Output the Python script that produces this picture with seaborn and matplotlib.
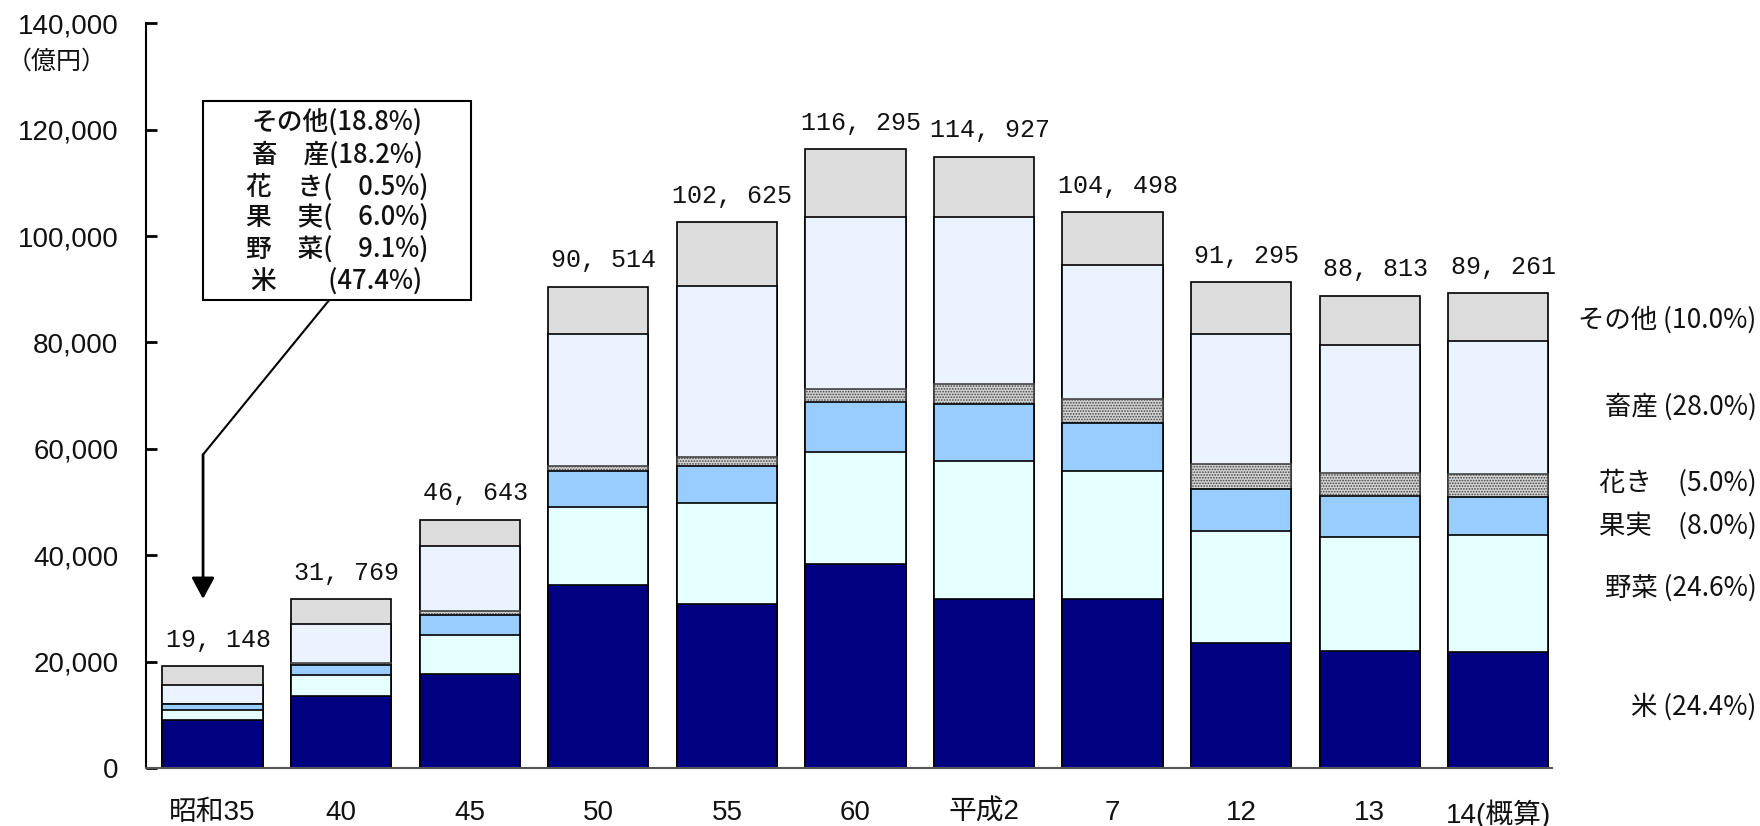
import matplotlib
matplotlib.use("Agg")
import matplotlib.pyplot as plt
import seaborn as sns
import numpy as np
import pandas as pd
from matplotlib.patches import Rectangle
from matplotlib.ticker import FuncFormatter, MultipleLocator

# 農業総産出額の推移（億円）
years = ["昭和35", "40", "45", "50", "55", "60", "平成2", "7", "12", "13", "14(概算)"]
totals = [19148, 31769, 46643, 90514, 102625, 116295, 114927, 104498, 91295, 88813, 89261]

rice = [9076, 13470, 17740, 34480, 30850, 38430, 31790, 31850, 23510, 22060, 21780]
vegetables = [1742, 3950, 7330, 14670, 19000, 21010, 26010, 23980, 21000, 21390, 21958]
fruit = [1149, 2000, 3770, 6640, 6880, 9330, 10690, 9060, 7970, 7640, 7141]
flowers = [96, 250, 700, 900, 1770, 2390, 3740, 4570, 4700, 4400, 4463]
livestock = [3485, 7400, 12270, 24950, 32090, 32410, 31340, 25150, 24320, 24080, 24993]
other = [3600, 4699, 4833, 8874, 12035, 12725, 11357, 9888, 9795, 9243, 8926]

# 構成比（昭和35年 / 平成14年）
shares_first = ["その他(18.8%)", "畜　産(18.2%)", "花　き(　0.5%)",
                "果　実(　6.0%)", "野　菜(　9.1%)", "米　　(47.4%)"]
shares_last = ["その他 (10.0%)", "畜産 (28.0%)", "花き　(5.0%)",
               "果実　(8.0%)", "野菜 (24.6%)", "米 (24.4%)"]

sns.set_theme(style="white")
plt.rcParams["font.family"] = ["Liberation Sans", "Noto Sans CJK JP", "DejaVu Sans"]
plt.rcParams["hatch.linewidth"] = 0.8

fig = plt.figure(figsize=(17.6, 8.26), dpi=100)
ax = fig.add_axes([0.083, 0.0702, 0.799, 0.9016])

layers = [
    (rice, "#000080", None),
    (vegetables, "#E6FFFF", None),
    (fruit, "#99CCFF", None),
    (flowers, "#D2D2D2", "......"),
    (livestock, "#EAF3FF", None),
    (other, "#DCDCDC", None),
]
cum = np.cumsum([np.array(v) for v, _, _ in layers], axis=0)

# stacked bars: draw cumulative heights from the top layer downwards
for k in reversed(range(len(layers))):
    _, color, hatch = layers[k]
    df = pd.DataFrame({"year": years, "value": cum[k]})
    n0 = len(ax.patches)
    sns.barplot(data=df, x="year", y="value", order=years, color=color,
                saturation=1, width=0.78, edgecolor="black", linewidth=1.2,
                errorbar=None, ax=ax)
    if hatch:
        for p in ax.patches[n0:]:
            p.set_hatch(hatch)
            p.set_edgecolor("#444444")

# totals above bars
for i, t in enumerate(totals):
    ax.annotate(f"{t:,}".replace(",", ", "), xy=(i, t), xytext=(4, 14),
                textcoords="offset points", ha="center", va="baseline",
                fontsize=18, family=["Liberation Mono", "DejaVu Sans Mono"],
                color="#111111")

ax.set_xlim(-0.517, 10.42)
ax.set_ylim(0, 140000)
ax.yaxis.set_major_locator(MultipleLocator(20000))
ax.yaxis.set_major_formatter(FuncFormatter(lambda v, _: f"{int(v):,}"))
ax.set_xlabel("")
ax.set_ylabel("")

for s in ("top", "right"):
    ax.spines[s].set_visible(False)
ax.spines["left"].set_color("black")
ax.spines["left"].set_linewidth(1.5)
ax.spines["bottom"].set_color("#555555")
ax.spines["bottom"].set_linewidth(1.5)

ax.tick_params(axis="y", direction="in", length=8, width=2, color="black",
               pad=20, labelsize=20, labelcolor="#111111", left=True)
ax.tick_params(axis="x", length=0, pad=23, labelsize=20, labelcolor="#111111")

fig.text(0.032, 0.925, "（億円）", ha="center", va="center", fontsize=18,
         family=["Noto Sans CJK JP"], color="#111111")

# composition box for 昭和35
ax.add_patch(Rectangle((-0.074, 87935), 2.084, 37395, facecolor="white",
                       edgecolor="black", linewidth=1.5, zorder=5))
ax.text(0.968, 106300, "\n".join(shares_first), ha="center", va="center",
        fontsize=18.5, linespacing=1.21, color="#111111", zorder=6,
        fontweight="medium", family=["Noto Sans CJK JP", "DejaVu Sans"])
ax.plot([0.906, -0.074], [87935, 58930], color="black", lw=1.5, zorder=5)
ax.annotate("", xy=(-0.074, 31790), xytext=(-0.074, 58930),
            arrowprops=dict(arrowstyle="-|>,head_length=0.65,head_width=0.35",
                            color="black", lw=2, mutation_scale=20,
                            shrinkA=0, shrinkB=0), zorder=5)

# composition labels for 平成14
label_y = [320, 407, 483, 526, 588, 707]
for txt, yp in zip(shares_last, label_y):
    fig.text(0.998, 1 - yp / 826, txt, ha="right", va="center", fontsize=19,
             family=["Liberation Sans Narrow", "Noto Sans CJK JP", "DejaVu Sans"],
             color="#111111")

fig.savefig("out.png", dpi=100)
